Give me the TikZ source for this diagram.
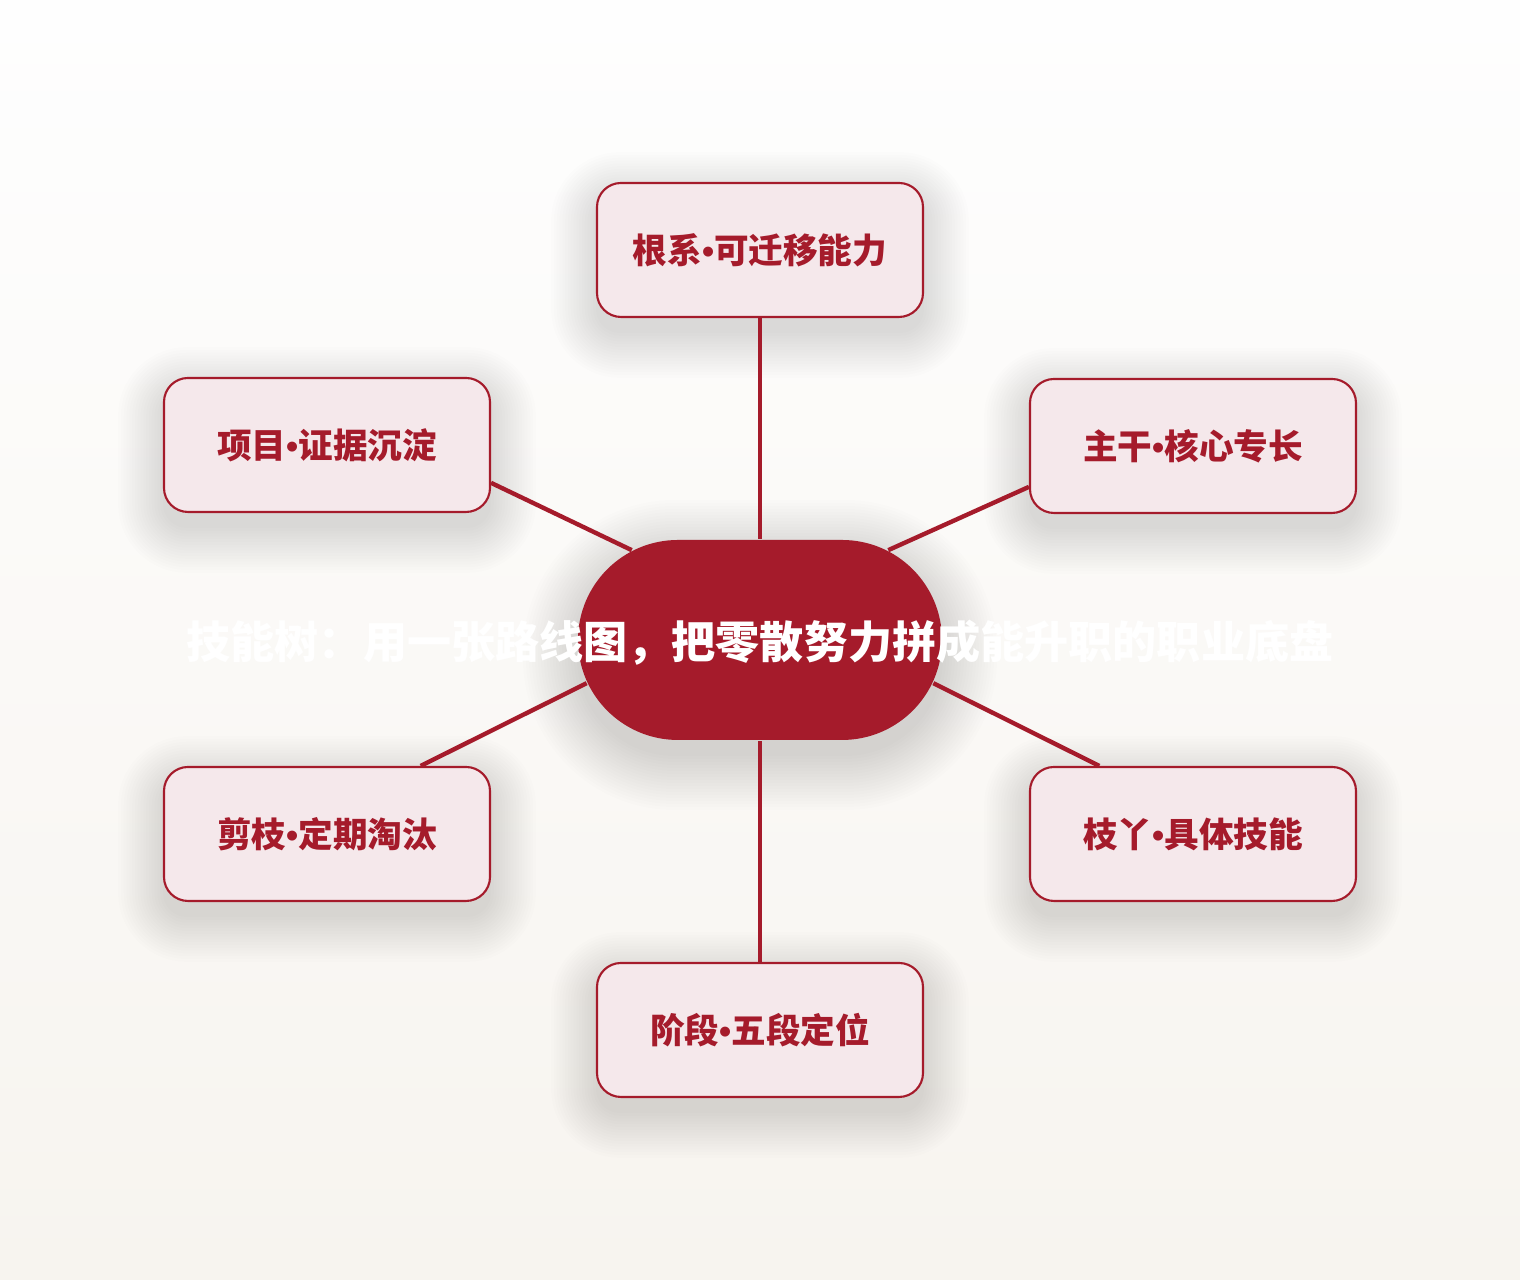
\documentclass[tikz,border=0pt]{standalone}
\usepackage{fontspec}
\newfontfamily\cjk{Noto Sans CJK SC}
\newfontfamily\latin{Liberation Sans}
\usetikzlibrary{shapes, shapes.misc, positioning, calc}
\definecolor{treered}{HTML}{A51B2B}
\definecolor{leafpink}{HTML}{F5E8EB}
\definecolor{bgtop}{HTML}{FEFEFE}
\definecolor{bgbottom}{HTML}{F7F4EF}
\pgfdeclarelayer{shade}
\pgfsetlayers{shade,main}
\begin{document}
\begin{tikzpicture}[semithick,
    branch/.style={draw=treered, line width=0.6pt, fill=leafpink, rounded corners=0.24cm, minimum width=3.26cm, minimum height=1.34cm, inner sep=0pt, text=treered, font=\cjk\bfseries\fontsize{9.85}{11}\selectfont},
    hub/.style={rounded rectangle, fill=treered, minimum width=3.64cm, minimum height=2cm, inner sep=0pt},
    title/.style={text=white, inner sep=0pt, font=\cjk\bfseries\fontsize{12.55}{15}\selectfont},
    link/.style={draw=treered, line width=1.25pt},
    glow/.style={fill=black, opacity=0.0095}]
    \useasboundingbox (0,0) rectangle (15.2,12.8);
    \node[hub] (hub) at (7.6,6.4) {};
    \node[branch] (root) at (7.6,10.3) {根系{\latin•}可迁移能力};
    \node[branch] (proj) at (3.27,8.35) {项目{\latin•}证据沉淀};
    \node[branch] (trunk) at (11.93,8.34) {主干{\latin•}核心专长};
    \node[branch] (prune) at (3.27,4.46) {剪枝{\latin•}定期淘汰};
    \node[branch] (twig) at (11.93,4.46) {枝丫{\latin•}具体技能};
    \node[branch] (stage) at (7.6,2.5) {阶段{\latin•}五段定位};
    \draw[link] (root.south) -- (hub.north);
    \draw[link] (proj.-13.5) -- (hub.145.7);
    \draw[link] (hub.35.1) -- (trunk.-166.2);
    \draw[link] (prune.36.4) -- (hub.-166.2);
    \draw[link] (hub.-14.2) -- (twig.144.2);
    \draw[link] (hub.south) -- (stage.north);
    \node[title] (heading) at (7.6,6.37) {技能树：用一张路线图，把零散努力拼成能升职的职业底盘};
    \begin{pgfonlayer}{shade}
    \fill[top color=bgtop, bottom color=bgbottom] (0,0) rectangle (15.2,12.8);
    \foreach \n in {root,proj,trunk,prune,twig,stage}
      \foreach \k in {0,...,16}
        \fill[glow, rounded corners=0.24cm+\k*0.028cm] ($(\n.south west)+(-\k*0.028,-0.15-\k*0.028)$) rectangle ($(\n.north east)+(\k*0.028,-0.15+\k*0.028)$);
    \foreach \k in {0,...,18}
      \fill[glow, rounded corners=0.98cm+\k*0.03cm] ($(hub.west |- hub.south)+(-\k*0.03,-0.15-\k*0.03)$) rectangle ($(hub.east |- hub.north)+(\k*0.03,-0.15+\k*0.03)$);
    \end{pgfonlayer}
\end{tikzpicture}
\end{document}
